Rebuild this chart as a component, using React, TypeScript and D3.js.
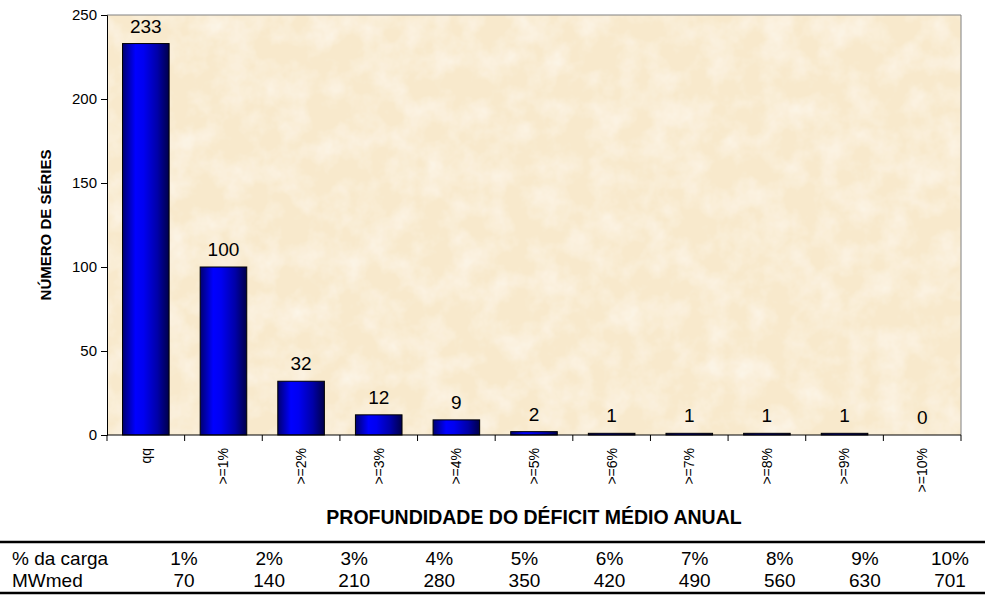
import { useEffect, useRef } from 'react';
import * as d3 from 'd3';

const categories = ['qq', '>=1%', '>=2%', '>=3%', '>=4%', '>=5%', '>=6%', '>=7%', '>=8%', '>=9%', '>=10%'];
const series     = [233, 100, 32, 12, 9, 2, 1, 1, 1, 1, 0];
const yTicks     = [0, 50, 100, 150, 200, 250];
const cargaRow   = ['1%', '2%', '3%', '4%', '5%', '6%', '7%', '8%', '9%', '10%'];
const mwRow      = ['70', '140', '210', '280', '350', '420', '490', '560', '630', '701'];

const W = 985;
const H = 595;
const FONT = 'Arial, "Liberation Sans", sans-serif';

export default function App() {
  const ref = useRef<SVGSVGElement>(null);

  useEffect(() => {
    if (!ref.current) return;
    const svg = d3.select(ref.current);
    svg.selectAll('*').remove();

    const margin = { top: 15, right: 24, bottom: 160, left: 107 };
    const pw = W - margin.left - margin.right;
    const ph = H - margin.top - margin.bottom;

    const defs = svg.append('defs');

    // bar shading, dark edges with a bright band left of centre
    const grad = defs.append('linearGradient').attr('id', 'barGrad')
      .attr('x1', '0%').attr('x2', '100%').attr('y1', '0%').attr('y2', '0%');
    [['0%', '#000070'], ['28%', '#0000ff'], ['45%', '#0000f2'], ['75%', '#0000a8'], ['100%', '#00004a']]
      .forEach(([o, c]) => grad.append('stop').attr('offset', o).attr('stop-color', c));

    // parchment look
    const tex = defs.append('filter').attr('id', 'parch')
      .attr('x', 0).attr('y', 0).attr('width', '100%').attr('height', '100%');
    tex.append('feTurbulence').attr('type', 'fractalNoise')
      .attr('baseFrequency', '0.035').attr('numOctaves', 4).attr('seed', 7).attr('result', 'noise');
    tex.append('feColorMatrix').attr('in', 'noise').attr('type', 'matrix')
      .attr('values', '0 0 0 0 0.99  0 0 0 0 0.96  0 0 0 0 0.90  0 0 0 -1.2 0.75')
      .attr('result', 'spots');
    tex.append('feComposite').attr('in', 'spots').attr('in2', 'SourceGraphic').attr('operator', 'atop');

    const g = svg.append('g').attr('transform', `translate(${margin.left},${margin.top})`);

    const x = d3.scaleBand<string>().domain(categories).range([0, pw]).paddingInner(0.4).paddingOuter(0.2);
    const y = d3.scaleLinear().domain([0, 250]).range([ph, 0]);

    g.append('rect').attr('width', pw).attr('height', ph).attr('fill', '#f8e9cc');
    g.append('rect').attr('width', pw).attr('height', ph).attr('fill', '#f8e9cc').attr('filter', 'url(#parch)');

    // top + right frame
    g.append('path').attr('d', `M0,0H${pw}V${ph}`).attr('fill', 'none').attr('stroke', '#808080').attr('stroke-width', 1);

    // bars
    g.selectAll('.bar').data(series).enter().append('rect')
      .attr('x', (_d, i) => x(categories[i])!)
      .attr('y', d => y(d))
      .attr('width', x.bandwidth())
      .attr('height', d => ph - y(d))
      .attr('fill', 'url(#barGrad)')
      .attr('stroke', d => (d > 0 ? '#000' : 'none'))
      .attr('stroke-width', 1);

    // value labels
    g.selectAll('.val').data(series).enter().append('text')
      .attr('x', (_d, i) => x(categories[i])! + x.bandwidth() / 2)
      .attr('y', d => y(d) - 11)
      .attr('text-anchor', 'middle')
      .attr('font-family', FONT).attr('font-size', 19).attr('fill', '#000')
      .text(d => d);

    // Y axis
    const ya = g.append('g')
      .call(d3.axisLeft(y).tickValues(yTicks).tickSize(6).tickPadding(4));
    ya.select('.domain').attr('stroke', '#000');
    ya.selectAll('line').attr('stroke', '#000');
    ya.selectAll('text').attr('font-family', FONT).attr('font-size', 15).attr('fill', '#000');

    // X axis: ticks at band edges
    const edges = d3.range(categories.length + 1).map(i => (pw / categories.length) * i);
    g.append('line').attr('x1', 0).attr('x2', pw).attr('y1', ph).attr('y2', ph).attr('stroke', '#000');
    g.selectAll('.xt').data(edges).enter().append('line')
      .attr('x1', d => d).attr('x2', d => d).attr('y1', ph).attr('y2', ph + 6).attr('stroke', '#000');

    g.selectAll('.xl').data(categories).enter().append('text')
      .attr('transform', d => `translate(${x(d)! + x.bandwidth() / 2},${ph + 13}) rotate(-90)`)
      .attr('text-anchor', 'end').attr('dy', '0.35em')
      .attr('font-family', FONT).attr('font-size', 14).attr('fill', '#000')
      .text(d => d);

    // axis titles
    svg.append('text')
      .attr('transform', `translate(51,${margin.top + ph / 2}) rotate(-90)`)
      .attr('text-anchor', 'middle')
      .attr('font-family', FONT).attr('font-size', 15).attr('font-weight', 'bold')
      .text('NÚMERO DE SÉRIES');

    svg.append('text')
      .attr('x', 534).attr('y', 524)
      .attr('text-anchor', 'middle')
      .attr('font-family', FONT).attr('font-size', 19.5).attr('font-weight', 'bold')
      .text('PROFUNDIDADE DO DÉFICIT MÉDIO ANUAL');

    // bottom table
    const col = d3.scalePoint<string>().domain(cargaRow).range([184, 950]);
    const t = svg.append('g');
    t.append('line').attr('x1', 0).attr('x2', W).attr('y1', 542).attr('y2', 542).attr('stroke', '#000').attr('stroke-width', 2.5);
    t.append('line').attr('x1', 0).attr('x2', W).attr('y1', 593).attr('y2', 593).attr('stroke', '#000').attr('stroke-width', 2.5);

    const rows: [string, string[], number][] = [['% da carga', cargaRow, 565], ['MWmed', mwRow, 587]];
    rows.forEach(([label, vals, yy]) => {
      t.append('text').attr('x', 12).attr('y', yy)
        .attr('font-family', FONT).attr('font-size', 19).text(label);
      t.selectAll(null).data(vals).enter().append('text')
        .attr('x', (_d, i) => col(cargaRow[i])!)
        .attr('y', yy)
        .attr('text-anchor', 'middle')
        .attr('font-family', FONT).attr('font-size', 19)
        .text(d => d);
    });
  }, []);

  return (
    <svg ref={ref} width={W} height={H}
      style={{ position: 'absolute', left: 0, top: 0, background: '#fff' }} />
  );
}
